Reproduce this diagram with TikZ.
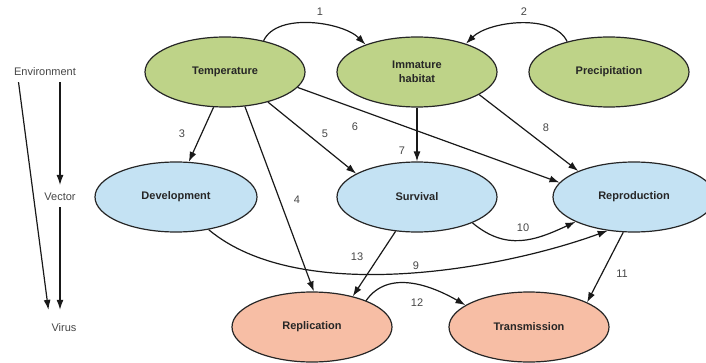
\documentclass[tikz,border=0pt]{standalone}
\usepackage{fontspec}
\setmainfont{Liberation Sans}
\usetikzlibrary{shapes.geometric,arrows.meta}
\definecolor{envgreen}{RGB}{190,211,136}
\definecolor{vecblue}{RGB}{196,226,243}
\definecolor{virsalmon}{RGB}{247,190,165}
\definecolor{txtgrey}{RGB}{70,70,70}

\begin{document}
\begin{tikzpicture}[x=1pt,y=1pt,
  factor/.style={ellipse,draw=black!85,line width=1.2pt,minimum width=160pt,minimum height=70pt,
    inner sep=0pt,align=center,text=black!85,font=\fontsize{11}{13.5}\selectfont\bfseries},
  level/.style={inner sep=2pt,text=txtgrey,font=\fontsize{11}{13}\selectfont},
  num/.style={inner sep=1pt,text=txtgrey,font=\fontsize{11}{13}\selectfont},
  link/.style={line width=1.2pt,draw=black!90,-{Latex[length=10pt,width=7pt]}}]
\useasboundingbox (0,0) rectangle (706,362);

% Levels on the left
\node[level] (env) at (45,290) {Environment};
\node[level] (vec) at (60,165) {Vector};
\node[level] (vir) at (64,34) {Virus};
\draw[link,shorten <=4pt,shorten >=12pt] ([xshift=-27pt]env.south) -- ([xshift=-14pt]vir.north);
\draw[link,shorten <=4pt,shorten >=6pt] (env.south -| vec.north) -- (vec.north);
\draw[link,shorten <=4pt,shorten >=12pt] (vec.south) -- (vec.south |- vir.north);

% Environment
\node[factor,fill=envgreen] (temp) at (225,290) {Temperature};
\node[factor,fill=envgreen] (habitat) at (417,290) {Immature\\habitat};
\node[factor,fill=envgreen] (precip) at (609,290) {Precipitation};

% Vector
\node[factor,fill=vecblue,minimum width=162pt] (devel) at (176,165) {Development};
\node[factor,fill=vecblue] (surv) at (417,165) {Survival};
\node[factor,fill=vecblue,minimum width=162pt] (repro) at (634,165) {Reproduction};

% Virus
\node[factor,fill=virsalmon] (repl) at (312,35) {Replication};
\node[factor,fill=virsalmon] (trans) at (529,35) {Transmission};

% Arrows
\draw[link] (temp.39) to[out=65,in=135,looseness=0.8] (habitat.152);
\draw[link] (precip.144) to[out=115,in=45,looseness=0.8] (habitat.30);
\draw[link] (temp.-108) -- (devel.70);
\draw[link] (temp.-60) -- (repl.87);
\draw[link] (temp.-35) -- (surv.159);
\draw[link] (temp.-12) -- (repro.169);
\draw[link] (habitat.south) -- (surv.north);
\draw[link] (habitat.-20) -- (repro.155);
\draw[link] (devel.-45) to[out=-40,in=200,looseness=0.75] (repro.-128);
\draw[link] (surv.-25) to[out=-40,in=205,looseness=1.1] (repro.-157);
\draw[link] (repro.-107) -- (trans.23);
\draw[link] (repl.26) to[out=55,in=150] (trans.161);
\draw[link] (surv.-122) -- (repl.37);

% Numbers
\node[num] (n1) at (320,350) {1};
\node[num] (n2) at (524,350) {2};
\node[num] (n3) at (182,228) {3};
\node[num] (n4) at (297,162) {4};
\node[num] (n5) at (325,228) {5};
\node[num] (n6) at (355,235) {6};
\node[num] (n7) at (402,211) {7};
\node[num] (n8) at (546,234) {8};
\node[num] (n9) at (416,96) {9};
\node[num] (n10) at (523,134) {10};
\node[num] (n11) at (622,88) {11};
\node[num] (n12) at (417,59) {12};
\node[num] (n13) at (357,105) {13};
\end{tikzpicture}
\end{document}
